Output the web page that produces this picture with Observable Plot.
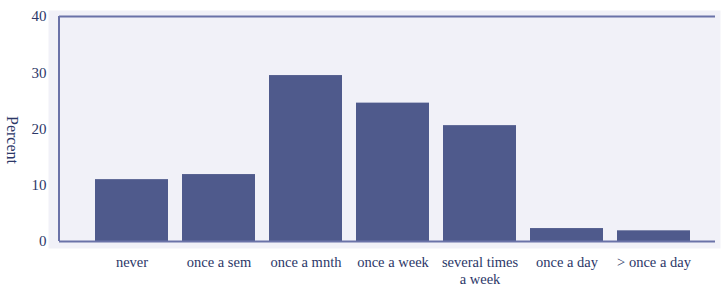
<!DOCTYPE html>
<html>
<head>
<meta charset="utf-8">
<script src="https://cdn.jsdelivr.net/npm/d3@7"></script>
<script src="https://cdn.jsdelivr.net/npm/@observablehq/plot@0.6"></script>
<style>
  html, body { margin: 0; padding: 0; background: #ffffff; }
  #chart svg { display: block; }
  #chart svg, #chart svg text { font-family: "Liberation Serif", "DejaVu Serif", serif !important; }
</style>
</head>
<body>
<div id="chart"></div>
<script>
const categories = ["never", "once a sem", "once a mnth", "once a week", "several times\na week", "once a day", "> once a day"];
const percents = [11.0, 11.9, 29.5, 24.6, 20.6, 2.3, 1.9];
const yTicks = [0, 10, 20, 30, 40];

const data = categories.map((c, i) => ({category: c, percent: percents[i]}));

const textColor = "#2c3768";
const barColor = "#4f5a8c";
const axisColor = "#6a72a8";
const font = "Liberation Serif";

const chart = Plot.plot({
  width: 723,
  height: 287,
  marginLeft: 59,
  marginRight: 8,
  marginTop: 16,
  marginBottom: 46,
  style: {fontFamily: font, fontSize: "15px", color: textColor, background: "#ffffff"},
  x: {domain: categories, range: [78, 708], padding: 0.16, axis: null},
  y: {domain: [0, 40], ticks: yTicks, tickSize: 5, tickPadding: 8, label: null},
  marks: [
    Plot.frame({fill: "#f1f1f8", stroke: "none", insetLeft: -11, insetTop: -6, insetRight: -5, insetBottom: -7}),
    Plot.barY(data, {x: "category", y: "percent", fill: barColor}),
    Plot.ruleY([0], {stroke: axisColor, strokeWidth: 2}),
    Plot.ruleY([40], {stroke: axisColor, strokeWidth: 2}),
    Plot.rect([0], {y1: 0, y2: 40, fill: axisColor, insetLeft: -1, insetRight: 655}),
    Plot.text(categories, {x: d => d, frameAnchor: "bottom", lineAnchor: "top", dy: 13, lineHeight: 1.2, fill: textColor, fontFamily: font, fontSize: 14.5}),
    Plot.text(["Percent"], {frameAnchor: "left", textAnchor: "middle", rotate: 90, dx: -47, dy: 11, fill: textColor, fontFamily: font, fontSize: 16})
  ]
});
document.getElementById("chart").appendChild(chart);
</script>
</body>
</html>
